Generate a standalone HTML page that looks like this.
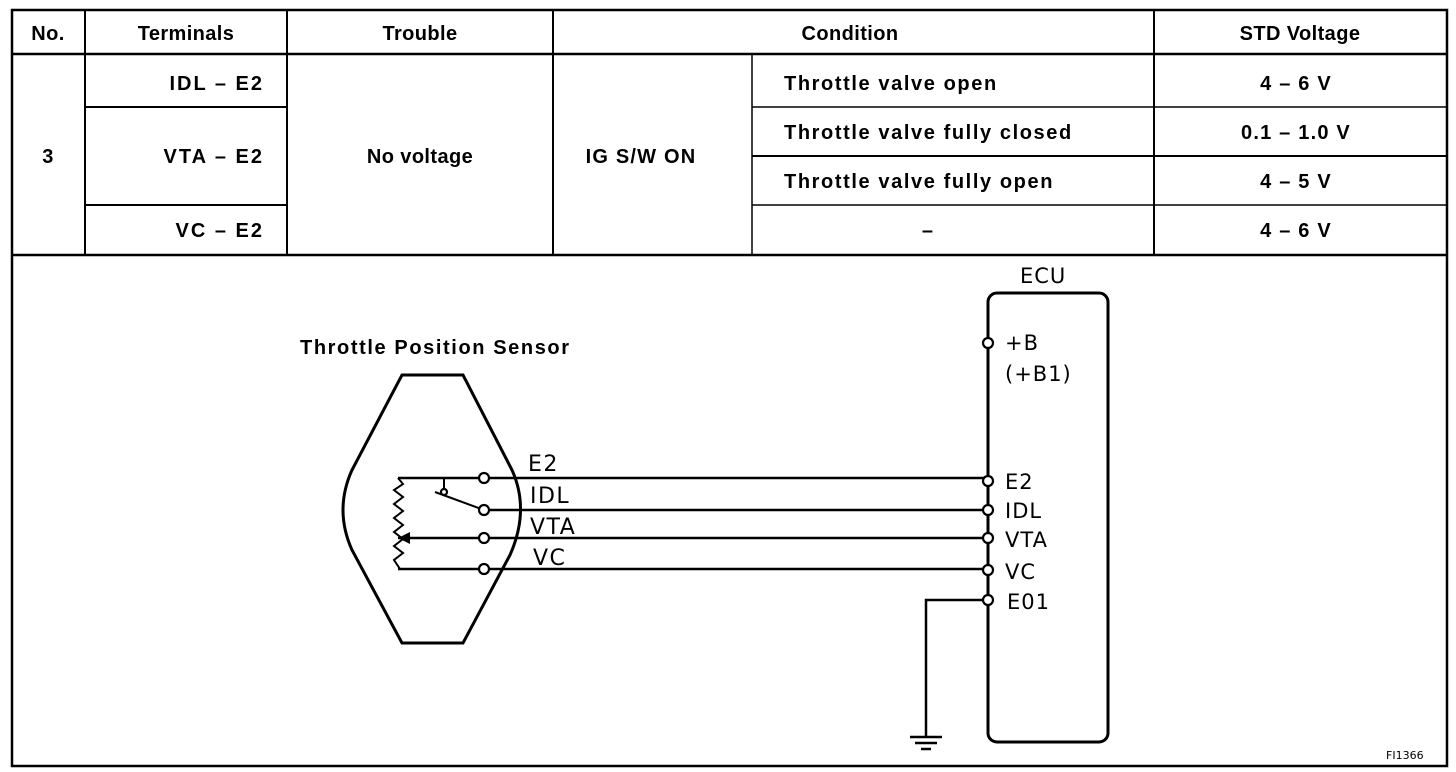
<!DOCTYPE html>
<html><head><meta charset="utf-8"><style>
html,body{margin:0;padding:0;background:#fff;}
svg{display:block;}
.t{font-family:"Liberation Sans",Arial,sans-serif;font-weight:bold;font-size:20px;fill:#000;letter-spacing:1.2px;}
.h{letter-spacing:0.4px;}
.d{font-family:"DejaVu Sans","Liberation Sans",sans-serif;font-size:21px;fill:#000;letter-spacing:1px;}
</style></head><body>
<svg width="1456" height="772" viewBox="0 0 1456 772" xmlns="http://www.w3.org/2000/svg">
<g stroke="#000" fill="none">
<rect x="12" y="10" width="1435" height="756" stroke-width="2.5"/>
<line x1="12" y1="54" x2="1447" y2="54" stroke-width="2.5"/>
<line x1="12" y1="255" x2="1447" y2="255" stroke-width="2.5"/>
<line x1="85" y1="10" x2="85" y2="255" stroke-width="2"/>
<line x1="287" y1="10" x2="287" y2="255" stroke-width="2"/>
<line x1="553" y1="10" x2="553" y2="255" stroke-width="2"/>
<line x1="752" y1="54" x2="752" y2="255" stroke-width="1.5"/>
<line x1="1154" y1="10" x2="1154" y2="255" stroke-width="2"/>
<line x1="85" y1="107" x2="287" y2="107" stroke-width="2"/>
<line x1="85" y1="205" x2="287" y2="205" stroke-width="2"/>
<line x1="752" y1="107" x2="1447" y2="107" stroke-width="1.5"/>
<line x1="752" y1="156" x2="1447" y2="156" stroke-width="2"/>
<line x1="752" y1="205" x2="1447" y2="205" stroke-width="1.5"/>
</g>
<g class="t h" text-anchor="middle">
<text x="48" y="40">No.</text>
<text x="186" y="40">Terminals</text>
<text x="420" y="40">Trouble</text>
<text x="850" y="40">Condition</text>
<text x="1300" y="40">STD Voltage</text>
<text x="48" y="163">3</text>
<text x="420" y="163">No voltage</text>
</g>
<g class="t" text-anchor="middle">
<text x="641" y="163">IG S/W ON</text>
<text x="1296" y="90">4 – 6 V</text>
<text x="1296" y="139">0.1 – 1.0 V</text>
<text x="1296" y="188">4 – 5 V</text>
<text x="1296" y="237">4 – 6 V</text>
<text x="928" y="237">–</text>
</g>
<g class="t" text-anchor="end" style="letter-spacing:2px">
<text x="264" y="90">IDL – E2</text>
<text x="264" y="163">VTA – E2</text>
<text x="264" y="237">VC – E2</text>
</g>
<g class="t" style="letter-spacing:1.6px">
<text x="784" y="90">Throttle valve open</text>
<text x="784" y="139">Throttle valve fully closed</text>
<text x="784" y="188">Throttle valve fully open</text>
</g>
<text class="t" x="300" y="354" style="font-size:20px;letter-spacing:1.6px">Throttle Position Sensor</text>
<g stroke="#000" fill="none" stroke-width="3">
<path d="M402,375 L463,375 L512,470 Q530,510 510,555 L463,643 L402,643 L352,550 Q334,510 352,470 Z"/>
<rect x="988" y="293" width="120" height="449" rx="9"/>
</g>
<g stroke="#000" fill="none" stroke-width="2.5">
<line x1="398" y1="478" x2="988" y2="478"/>
<line x1="484" y1="510" x2="988" y2="510"/>
<line x1="398" y1="538" x2="988" y2="538"/>
<line x1="398" y1="569" x2="988" y2="569"/>
<line x1="435" y1="492" x2="484" y2="510" stroke-width="2"/>
<line x1="444" y1="478" x2="444" y2="490" stroke-width="2"/>
<path d="M398,478 L403,484 L394,490 L403,497 L394,504 L403,511 L394,518 L403,525 L394,532 L403,539 L394,546 L403,553 L394,560 L400,569" stroke-width="2"/>
<path d="M926,737 L926,600 L988,600"/>
<line x1="910" y1="737" x2="942" y2="737"/>
<line x1="915" y1="743" x2="937" y2="743"/>
<line x1="921" y1="749" x2="931" y2="749"/>
</g>
<path d="M398,538 L410,532 L410,544 Z" fill="#000"/>
<g stroke="#000" fill="#fff" stroke-width="2.2">
<circle cx="484" cy="478" r="5"/><circle cx="484" cy="510" r="5"/>
<circle cx="484" cy="538" r="5"/><circle cx="484" cy="569" r="5"/>
<circle cx="444" cy="492" r="3"/>
<circle cx="988" cy="343" r="5"/><circle cx="988" cy="481" r="5"/>
<circle cx="988" cy="510" r="5"/><circle cx="988" cy="538" r="5"/>
<circle cx="988" cy="570" r="5"/><circle cx="988" cy="600" r="5"/>
</g>
<g class="d">
<text x="528" y="471" style="font-size:22px;letter-spacing:1.5px">E2</text>
<text x="530" y="503" style="font-size:22px;letter-spacing:1.5px">IDL</text>
<text x="530" y="534" style="font-size:22px;letter-spacing:1.5px">VTA</text>
<text x="533" y="565" style="font-size:22px;letter-spacing:1.5px">VC</text>
<text x="1020" y="283">ECU</text>
<text x="1005" y="350">+B</text>
<text x="1005" y="381">(+B1)</text>
<text x="1005" y="489">E2</text>
<text x="1005" y="518">IDL</text>
<text x="1005" y="547">VTA</text>
<text x="1005" y="579">VC</text>
<text x="1007" y="609">E01</text>
<text x="1386" y="759" style="font-size:11px;letter-spacing:0">FI1366</text>
</g>
</svg>
</body></html>
